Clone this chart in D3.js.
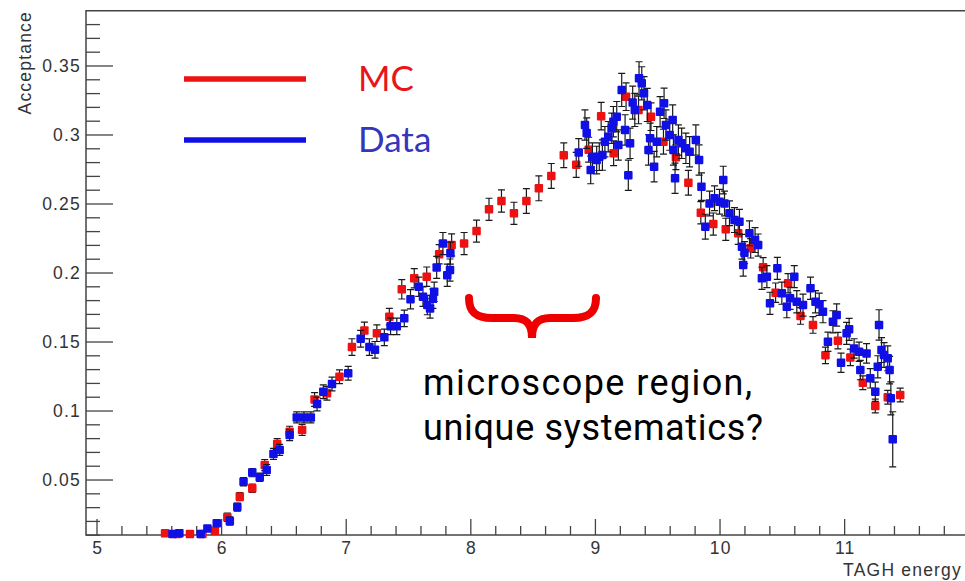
<!DOCTYPE html>
<html>
<head>
<meta charset="utf-8">
<script src="https://cdn.jsdelivr.net/npm/d3@7"></script>
<style>
  html, body { margin: 0; padding: 0; background: #fff; }
  svg { display: block; }
  .axis-text { font-family: "Liberation Sans", Arial, sans-serif; font-size: 17.5px; letter-spacing: 1.2px; fill: #333; }
</style>
</head>
<body>
<svg id="chart" width="965" height="581"></svg>
<script>
// MC acceptance (red), one point per 0.1 GeV bin
const mcEnergy = [5.55, 5.65, 5.75, 5.85, 5.95, 6.05, 6.15, 6.25, 6.35, 6.45,
  6.55, 6.65, 6.75, 6.85, 6.95, 7.05, 7.15, 7.25, 7.35, 7.45,
  7.55, 7.65, 7.75, 7.85, 7.95, 8.05, 8.15, 8.25, 8.35, 8.45,
  8.55, 8.65, 8.75, 8.85, 8.95, 9.05, 9.15, 9.25, 9.35, 9.45,
  9.55, 9.65, 9.75, 9.85, 9.95, 10.05, 10.15, 10.25, 10.35, 10.45,
  10.55, 10.65, 10.75, 10.85, 10.95, 11.05, 11.15, 11.25, 11.35, 11.45];
const mcAcceptance = [0.011, 0.0105, 0.0105, 0.0105, 0.0129, 0.0226, 0.0376, 0.0436, 0.0605, 0.0757,
  0.0846, 0.0859, 0.108, 0.1125, 0.1245, 0.146, 0.158, 0.156, 0.168, 0.1878,
  0.1958, 0.197, 0.2132, 0.220, 0.221, 0.230, 0.2458, 0.2518, 0.2429, 0.2518,
  0.261, 0.270, 0.285, 0.278, 0.289, 0.3133, 0.2864, 0.3274, 0.3178, 0.3129,
  0.2948, 0.2835, 0.265, 0.2433, 0.2351, 0.2313, 0.2284, 0.2175, 0.2038, 0.1854,
  0.1922, 0.1685, 0.162, 0.140, 0.1506, 0.1385, 0.1201, 0.1033, 0.1096, 0.1112];
const mcError = [0.002, 0.002, 0.002, 0.002, 0.002, 0.003, 0.003, 0.003, 0.004, 0.004,
  0.004, 0.004, 0.005, 0.005, 0.005, 0.006, 0.006, 0.006, 0.006, 0.007,
  0.007, 0.007, 0.007, 0.008, 0.008, 0.008, 0.008, 0.008, 0.008, 0.009,
  0.009, 0.009, 0.009, 0.009, 0.009, 0.010, 0.009, 0.010, 0.010, 0.010,
  0.009, 0.009, 0.009, 0.008, 0.008, 0.008, 0.008, 0.007, 0.007, 0.007,
  0.007, 0.006, 0.006, 0.006, 0.006, 0.006, 0.005, 0.005, 0.005, 0.005];

// Data acceptance (blue), per tagger counter
const dataEnergy = [5.61, 5.665, 5.836, 5.89, 5.965, 6.07, 6.13, 6.18, 6.25, 6.31,
  6.366, 6.42, 6.47, 6.55, 6.607, 6.665, 6.72, 6.77, 6.82, 6.89,
  7.02, 7.12, 7.19, 7.235, 7.31, 7.36, 7.41, 7.47, 7.52, 7.586,
  7.62, 7.655, 7.677, 7.70, 7.71, 7.73, 7.78, 7.815, 7.837, 7.84,
  8.87, 8.92, 8.934, 8.966, 8.98, 9.014, 9.035, 9.06, 9.08, 9.107,
  9.135, 9.148, 9.175, 9.188, 9.215, 9.242, 9.268, 9.282, 9.303, 9.32,
  9.354, 9.376, 9.394, 9.42, 9.43, 9.443, 9.475, 9.496, 9.523, 9.555,
  9.57, 9.60, 9.624, 9.63, 9.643, 9.67, 9.696, 9.73, 9.76, 9.81,
  9.836, 9.855, 9.886, 9.92, 9.96, 10.0, 10.03, 10.04, 10.08, 10.12,
  10.16, 10.18, 10.19, 10.2, 10.24, 10.285, 10.31, 10.34, 10.38, 10.405,
  10.464, 10.5, 10.54, 10.566, 10.6, 10.62, 10.67, 10.73, 10.77, 10.80,
  10.83, 10.87, 10.91, 10.94, 10.975, 11.02, 11.04, 11.08, 11.12, 11.13,
  11.18, 11.21, 11.25, 11.27, 11.28, 11.30, 11.32, 11.35, 11.365, 11.375,
  11.39];
const dataAcceptance = [0.0105, 0.011, 0.0105, 0.0146, 0.0183, 0.020, 0.030, 0.0484, 0.055, 0.0516,
  0.0569, 0.0685, 0.0714, 0.0822, 0.095, 0.095, 0.095, 0.1047, 0.1136, 0.1192,
  0.127, 0.152, 0.146, 0.144, 0.153, 0.161, 0.161, 0.1668, 0.1806, 0.1897,
  0.1825, 0.1764, 0.174, 0.181, 0.186, 0.2037, 0.221, 0.198, 0.2018, 0.214,
  0.287, 0.3069, 0.301, 0.2743, 0.2839, 0.2815, 0.2839, 0.2851, 0.2948, 0.2984,
  0.3045, 0.3093, 0.3129, 0.2924, 0.3323, 0.3033, 0.2705, 0.2936, 0.3231, 0.3178,
  0.3407, 0.3371, 0.3299, 0.3214, 0.2888, 0.2972, 0.2767, 0.2948, 0.3165, 0.3226,
  0.3069, 0.2996, 0.3105, 0.2888, 0.2683, 0.296, 0.2936, 0.290, 0.2875, 0.296,
  0.2815, 0.2622, 0.2332, 0.250, 0.2538, 0.2513, 0.267, 0.250, 0.2429, 0.238,
  0.2368, 0.2187, 0.2054, 0.2144, 0.2284, 0.2235, 0.2199, 0.1958, 0.197, 0.1777,
  0.203, 0.185, 0.1752, 0.1813, 0.197, 0.1788, 0.1764, 0.1886, 0.1788, 0.177,
  0.1716, 0.1498, 0.1643, 0.1692, 0.1346, 0.1559, 0.1588, 0.145, 0.1426, 0.1293,
  0.1414, 0.1233, 0.1136, 0.1317, 0.162, 0.1438, 0.1402, 0.1378, 0.1293, 0.1088,
  0.0791];
const dataError = [0.002, 0.002, 0.002, 0.002, 0.002, 0.003, 0.003, 0.003, 0.003, 0.003,
  0.004, 0.004, 0.004, 0.004, 0.004, 0.004, 0.004, 0.005, 0.005, 0.005,
  0.005, 0.006, 0.006, 0.006, 0.006, 0.006, 0.006, 0.006, 0.007, 0.007,
  0.007, 0.007, 0.007, 0.007, 0.007, 0.008, 0.008, 0.008, 0.008, 0.008,
  0.010, 0.011, 0.011, 0.010, 0.010, 0.010, 0.010, 0.011, 0.011, 0.011,
  0.011, 0.011, 0.011, 0.011, 0.012, 0.011, 0.011, 0.011, 0.012, 0.012,
  0.012, 0.012, 0.012, 0.012, 0.011, 0.011, 0.011, 0.011, 0.011, 0.011,
  0.011, 0.011, 0.011, 0.011, 0.011, 0.011, 0.011, 0.011, 0.011, 0.011,
  0.011, 0.010, 0.009, 0.009, 0.009, 0.009, 0.010, 0.009, 0.009, 0.009,
  0.009, 0.009, 0.008, 0.008, 0.009, 0.009, 0.008, 0.008, 0.008, 0.008,
  0.008, 0.008, 0.008, 0.008, 0.008, 0.008, 0.008, 0.008, 0.008, 0.008,
  0.008, 0.007, 0.008, 0.008, 0.007, 0.008, 0.008, 0.007, 0.007, 0.007,
  0.007, 0.007, 0.007, 0.008, 0.011, 0.009, 0.009, 0.009, 0.010, 0.012,
  0.020];

// Axis ticks and labels
const xMajorTicks = [5, 6, 7, 8, 9, 10, 11];
const xTickLabels = ["5", "6", "7", "8", "9", "10", "11"];
const yMajorTicks = [0.05, 0.10, 0.15, 0.20, 0.25, 0.30, 0.35];
const yTickLabels = ["0.05", "0.1", "0.15", "0.2", "0.25", "0.3", "0.35"];

const legendLabels = ["MC", "Data"];
const noteLines = ["microscope region,", "unique systematics?"];

const svg = d3.select("#chart");
const frame = { left: 86, right: 965, top: 10.7, bottom: 535 };

const x = d3.scaleLinear().domain([4.9157, 11.97]).range([frame.left, frame.right]);
const y = d3.scaleLinear().domain([0.0098, 0.3897]).range([frame.bottom, frame.top]);

const xMinorTicks = d3.range(5.2, 11.9, 0.2).filter(v => Math.abs(v - Math.round(v)) > 1e-6);
const yMinorTicks = d3.range(0.01, 0.385, 0.01).filter(v => Math.abs(v * 20 - Math.round(v * 20)) > 1e-6);

function cleanAxis(g) {
  g.select(".domain").remove();
  g.selectAll(".tick line").attr("stroke", "#444").attr("stroke-width", 1.3);
}

// y ticks point into the plot
svg.append("g").attr("transform", `translate(${frame.left},0)`)
  .call(d3.axisRight(y).tickValues(yMajorTicks).tickSize(27).tickFormat(""))
  .call(cleanAxis);
svg.append("g").attr("transform", `translate(${frame.left},0)`)
  .call(d3.axisRight(y).tickValues(yMinorTicks).tickSize(14).tickFormat(""))
  .call(cleanAxis);
const yLab = svg.append("g").attr("transform", `translate(${frame.left},0)`)
  .call(d3.axisLeft(y).tickValues(yMajorTicks).tickSize(0).tickPadding(5)
    .tickFormat((d, i) => yTickLabels[i]));
yLab.select(".domain").remove();
yLab.selectAll("text").attr("class", "axis-text").attr("font-size", null).attr("font-family", null).attr("fill", null);

// x ticks point up from the axis
svg.append("g").attr("transform", `translate(0,${frame.bottom})`)
  .call(d3.axisTop(x).tickValues(xMajorTicks).tickSize(16).tickFormat(""))
  .call(cleanAxis);
svg.append("g").attr("transform", `translate(0,${frame.bottom})`)
  .call(d3.axisTop(x).tickValues(xMinorTicks).tickSize(9).tickFormat(""))
  .call(cleanAxis);
const xLab = svg.append("g").attr("transform", `translate(0,${frame.bottom})`)
  .call(d3.axisBottom(x).tickValues(xMajorTicks).tickSize(0).tickPadding(7)
    .tickFormat((d, i) => xTickLabels[i]));
xLab.select(".domain").remove();
xLab.selectAll("text").attr("class", "axis-text").attr("font-size", null).attr("font-family", null).attr("fill", null)
  .attr("dx", "0.6px");

// frame
svg.append("path")
  .attr("d", `M${frame.right},${frame.top}H${frame.left}V${frame.bottom}H${frame.right}`)
  .attr("fill", "none").attr("stroke", "#444").attr("stroke-width", 1.5);

// axis titles
svg.append("text").attr("class", "axis-text")
  .attr("x", 962).attr("y", 576).attr("text-anchor", "end")
  .text("TAGH energy");
svg.append("text").attr("class", "axis-text")
  .attr("transform", "translate(31,11) rotate(-90)")
  .attr("text-anchor", "end")
  .text("Acceptance");

// graph with error bars and square markers
function drawSeries(energy, acc, err, color) {
  const pts = energy.map((e, i) => ({ e, a: acc[i], s: err[i] }));
  const g = svg.append("g");
  const bars = g.append("g").attr("stroke", "#1a1a1a").attr("stroke-width", 1.2);
  bars.selectAll("path").data(pts).join("path")
    .attr("d", d => {
      const cx = x(d.e), y0 = y(d.a - d.s), y1 = y(d.a + d.s);
      return `M${cx},${y0}V${y1}M${cx - 3.5},${y0}H${cx + 3.5}M${cx - 3.5},${y1}H${cx + 3.5}`;
    });
  g.append("g").selectAll("rect").data(pts).join("rect")
    .attr("x", d => x(d.e) - 4.25).attr("y", d => y(d.a) - 4.25)
    .attr("width", 8.5).attr("height", 8.5)
    .attr("rx", 1).attr("fill", color);
}
drawSeries(mcEnergy, mcAcceptance, mcError, "#ee1111");
drawSeries(dataEnergy, dataAcceptance, dataError, "#1010e6");

// legend
const legend = svg.append("g");
const legendColors = ["#ee1111", "#1010e6"];
const legendText = ["#e8151b", "#3535bd"];
legendLabels.forEach((lab, i) => {
  const ly = 79 + i * 61;
  legend.append("line").attr("x1", 184).attr("x2", 306).attr("y1", ly).attr("y2", ly)
    .attr("stroke", legendColors[i]).attr("stroke-width", 5.5);
  legend.append("text").attr("x", 358).attr("y", ly + 12)
    .attr("font-family", "Lato, 'Open Sans', sans-serif").attr("font-size", 35)
    .attr("fill", legendText[i]).text(lab);
});

// annotation: brace over the microscope range and note
svg.append("path")
  .attr("d", "M469,298 C469,313 477,318 492,318 L514,318 C527,318 532,325 532,338 C532,325 537,318 550,318 L573,318 C588,318 596,313 596,298")
  .attr("fill", "none").attr("stroke", "#ee0000").attr("stroke-width", 8).attr("stroke-linecap", "round");

const noteWidths = [329, 340];
const note = svg.append("text")
  .attr("font-family", "Roboto, sans-serif").attr("font-size", 36).attr("fill", "#000");
noteLines.forEach((line, i) => {
  note.append("tspan").attr("x", 423).attr("y", 395 + i * 45)
    .attr("textLength", noteWidths[i]).attr("lengthAdjust", "spacing").text(line);
});
</script>
</body>
</html>
